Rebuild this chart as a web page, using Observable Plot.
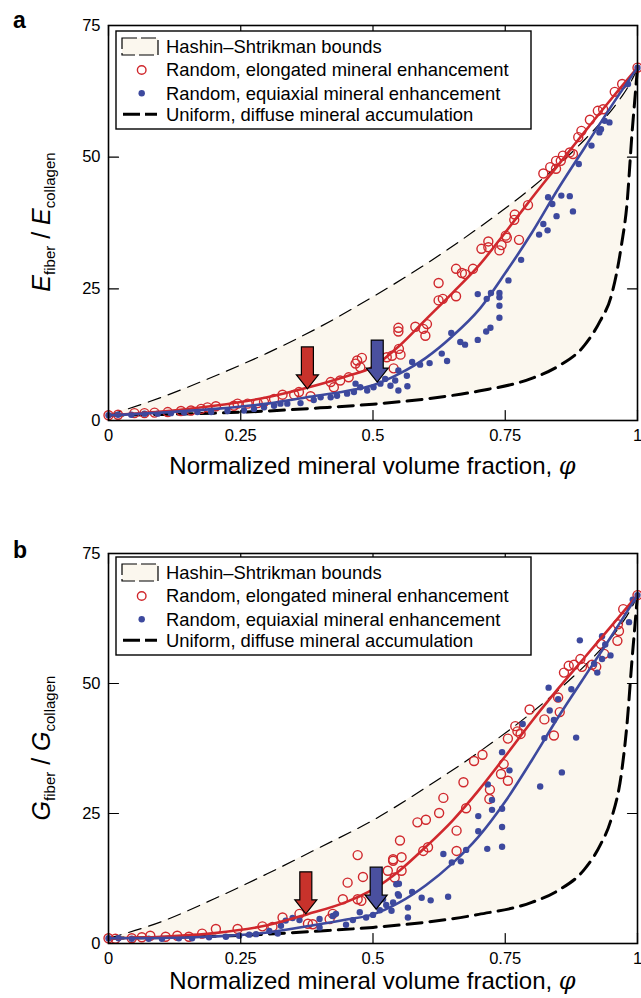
<!DOCTYPE html>
<html><head><meta charset="utf-8">
<script src="https://cdn.jsdelivr.net/npm/d3@7"></script>
<script src="https://cdn.jsdelivr.net/npm/@observablehq/plot@0.6"></script>
<style>
body{margin:0;background:#fff;}
#wrap{width:641px;}
#wrap svg{display:block;}
</style></head><body><div id="wrap"></div>
<script>
// ---------- data ----------
const xTicks = [0, 0.25, 0.5, 0.75, 1];
const xTickLabels = ["0", "0.25", "0.5", "0.75", "1"];
const yTicks = [0, 25, 50, 75];

// Hashin–Shtrikman bounds
const boundPhi = [0,0.1,0.2,0.3,0.4,0.5,0.6,0.7,0.8,0.85,0.9,0.93,0.95,0.97,0.98,0.99,0.995,1];
const aUpper = [1,4.4,8.4,12.8,17.8,23.5,29.7,36.6,44.2,48.5,53.3,56.5,58.8,61.5,63,64.8,65.8,67];
const aLower = [1,1.15,1.4,1.8,2.4,3.1,4.1,5.6,8.0,10.3,14.3,19,23.5,33.5,41,55,61,67];
const bUpper = [1,4.2,8.6,13.4,18.5,23.7,30,36.8,44.4,48.7,53.4,56.5,58.8,61.5,63,64.8,65.8,67];
const bLower = [1,1.15,1.4,1.8,2.4,3.1,4.1,5.6,7.9,10.2,14.3,19,23.8,33,42,55,61,67];

// fitted curves
const fitPhi = [0,0.1,0.2,0.3,0.375,0.45,0.5,0.55,0.6,0.65,0.7,0.75,0.8,0.85,0.9,0.95,1];
const aElongFit = [1,1.7,2.8,4.4,6.2,8.4,10.2,14.2,19.2,24.2,29.4,35.7,42.2,48.5,54.8,61,67];
const aEquiFit  = [1,1.5,2.2,3.2,4.4,5.6,6.7,8.9,11.9,16,21,28,35.6,44,51.8,59.6,67];
const bElongFit = [1,1.3,2.0,3.5,5.6,8.0,10.4,14.0,18.6,23.6,29.5,36,42.7,49,55,61,67];
const bEquiFit  = [1,1.05,1.35,2.1,3.3,4.6,5.6,7.9,11.2,15.4,20.6,27.3,35.2,43.5,51.3,59,67];

// panel a: random, elongated mineral enhancement (open circles)
const aElong = [[0,1.0],[0.018,1.1],[0.049,1.4],[0.068,1.4],[0.087,1.5],[0.112,1.6],[0.137,1.8],[0.156,1.9],[0.175,2.2],[0.187,2.5],[0.203,2.7],[0.237,2.8],[0.244,3.2],[0.263,3.2],[0.282,3.3],[0.294,3.5],[0.313,4.1],[0.329,4.9],[0.351,4.9],[0.36,5.4],[0.382,4.6],[0.42,7.3],[0.426,6.3],[0.438,7.6],[0.454,8.2],[0.467,10.8],[0.47,11.4],[0.479,11.9],[0.476,10.1],[0.526,12],[0.536,12.3],[0.539,9.9],[0.548,17.6],[0.548,16.9],[0.549,13.6],[0.552,12.5],[0.58,17.8],[0.595,17.4],[0.602,18.3],[0.599,16.1],[0.624,26.1],[0.624,22.8],[0.632,23.1],[0.657,23.6],[0.657,28.8],[0.668,28],[0.674,27.8],[0.689,28.8],[0.705,32.6],[0.718,34],[0.718,32.9],[0.739,32.3],[0.743,33.3],[0.751,35.1],[0.753,34.7],[0.776,34.3],[0.768,39.1],[0.767,38.1],[0.793,40.9],[0.822,46.9],[0.835,48.1],[0.846,47.8],[0.846,49.3],[0.855,49.3],[0.859,50.3],[0.872,50.9],[0.878,50.6],[0.888,53.8],[0.894,55],[0.91,57.1],[0.925,58.8],[0.935,59.1],[0.957,62.4],[0.971,63.9],[1,67]];
// panel a: random, equiaxial mineral enhancement (filled dots)
const aEqui = [[0,1.0],[0.018,1.1],[0.043,1.1],[0.068,1.3],[0.093,1.3],[0.118,1.4],[0.143,1.5],[0.168,1.6],[0.194,1.6],[0.225,1.8],[0.256,1.9],[0.275,2.2],[0.294,2.5],[0.313,2.8],[0.325,3.2],[0.338,3.2],[0.363,3.3],[0.388,3.9],[0.401,4.4],[0.42,4.4],[0.432,4.7],[0.451,5.1],[0.464,5.4],[0.467,7],[0.476,6.3],[0.489,5.7],[0.501,6.3],[0.514,7],[0.523,7.9],[0.533,6.6],[0.542,7.6],[0.548,9.5],[0.548,5.7],[0.564,8.5],[0.565,6.5],[0.574,11.1],[0.589,10.6],[0.607,10.9],[0.63,12.7],[0.64,11.3],[0.648,16.6],[0.665,14.9],[0.674,14.4],[0.698,15.3],[0.698,24],[0.714,16.9],[0.722,17.6],[0.715,23.1],[0.723,24.2],[0.739,24.2],[0.739,23.4],[0.739,21.8],[0.739,19.5],[0.756,26.6],[0.78,30.5],[0.814,35.3],[0.822,37.3],[0.83,36.1],[0.831,42.4],[0.839,41.1],[0.847,38.8],[0.856,42.7],[0.872,42.6],[0.878,39.7],[0.889,48.7],[0.913,52.2],[0.928,54.7],[0.931,55.3],[0.938,56.9],[0.947,56.6],[0.982,63.9],[1,67]];

// panel b
const bElong = [[0,1],[0.013,0.9],[0.044,1.0],[0.063,1.2],[0.079,1.5],[0.108,1.3],[0.13,1.5],[0.152,1.3],[0.177,1.9],[0.203,2.8],[0.244,2.8],[0.291,3.3],[0.31,3.2],[0.329,5],[0.361,5.7],[0.377,3.8],[0.386,3.7],[0.418,4.7],[0.424,5.7],[0.443,8.5],[0.452,11.7],[0.471,8.5],[0.478,8.2],[0.471,17],[0.481,12.8],[0.528,14],[0.538,15.9],[0.541,12.7],[0.551,19.8],[0.538,16.2],[0.554,16.6],[0.554,14],[0.584,23.3],[0.6,23.8],[0.595,17.8],[0.604,18.5],[0.625,25.1],[0.633,28],[0.658,21.7],[0.658,17.8],[0.671,31],[0.676,26],[0.691,35.1],[0.707,36.3],[0.721,29.6],[0.72,27.8],[0.742,32.6],[0.747,34.5],[0.755,31.3],[0.755,39.4],[0.769,41.8],[0.773,40.8],[0.779,40.3],[0.796,45],[0.824,43.1],[0.842,40],[0.85,47.3],[0.853,44.5],[0.861,52.1],[0.87,53.4],[0.88,53.6],[0.892,54.7],[0.895,53.2],[0.914,53.6],[0.922,53.2],[0.931,57.6],[0.937,55.7],[0.962,58.2],[0.965,60.1],[0.963,61.4],[0.973,64.3],[1,67]];
const bEqui = [[0,1],[0.019,1.0],[0.044,0.9],[0.076,0.9],[0.101,0.9],[0.133,1.0],[0.158,1.0],[0.19,1.2],[0.222,1.3],[0.247,1.5],[0.266,1.7],[0.279,1.8],[0.304,2.4],[0.32,1.9],[0.326,3.4],[0.335,4.4],[0.348,4.9],[0.361,4.5],[0.399,4.7],[0.399,3.1],[0.424,5.3],[0.43,5.7],[0.449,3.6],[0.462,4.5],[0.475,6],[0.487,5],[0.5,5.5],[0.513,6.4],[0.525,7.4],[0.538,7.9],[0.544,11.4],[0.547,9.5],[0.519,8.5],[0.535,6.3],[0.549,11.5],[0.549,9.2],[0.566,6.9],[0.566,5],[0.574,9.9],[0.592,8.8],[0.609,8.3],[0.642,9],[0.633,17.2],[0.649,15.6],[0.666,15.8],[0.676,18],[0.699,24.5],[0.699,21.6],[0.716,18.2],[0.717,30.6],[0.725,27.6],[0.725,25.7],[0.744,25.9],[0.744,22.4],[0.744,18.6],[0.744,36.8],[0.758,33.3],[0.783,42.2],[0.816,30.2],[0.824,39.5],[0.832,49.2],[0.834,44.8],[0.842,43],[0.85,47],[0.857,32.9],[0.875,48.9],[0.884,39.6],[0.891,58.3],[0.918,53.8],[0.924,52.1],[0.933,54.7],[0.949,55.4],[0.933,59.1],[0.939,57.5],[0.984,61.8],[0.991,66.1],[1,67]];

// arrow annotations: [phi, tip value]
const aArrowElong = [[0.376, 6.0]];
const aArrowEqui  = [[0.508, 7.3]];
const bArrowElong = [[0.373, 5.7]];
const bArrowEqui  = [[0.506, 6.6]];

const legendLabels = ["Hashin\u2013Shtrikman bounds", "Random, elongated mineral enhancement", "Random, equiaxial mineral enhancement", "Uniform, diffuse mineral accumulation"];
const xLabel = "Normalized mineral volume fraction, ";

// ---------- styling ----------
const FONT = "'Liberation Sans', Arial, sans-serif";
const RED = "#d0282d", BLUE = "#3d499e", CREAM = "#fbf7ee";
const RED_ARROW = "#c8322b", BLUE_ARROW = "#4a509f";

const tickShape = {draw(ctx, l) { ctx.moveTo(0, 0); ctx.lineTo(0, -l); }};
const blockArrow = {draw(ctx, l) {
  const w = 6, hw = 11, hl = 14;
  ctx.moveTo(-w, 0); ctx.lineTo(-w, -(l - hl)); ctx.lineTo(-hw, -(l - hl));
  ctx.lineTo(0, -l); ctx.lineTo(hw, -(l - hl)); ctx.lineTo(w, -(l - hl));
  ctx.lineTo(w, 0); ctx.closePath();
}};

function panel(o) {
  const bounds = boundPhi.map((p, i) => ({phi: p, lo: o.lower[i], hi: o.upper[i]}));
  const fitE = fitPhi.map((p, i) => ({phi: p, v: o.elongFit[i]}));
  const fitQ = fitPhi.map((p, i) => ({phi: p, v: o.equiFit[i]}));
  const tk = {length: 10, anchor: "start", shape: tickShape, stroke: "black", strokeWidth: 1.2};
  const svg = Plot.plot({
    width: 641, height: o.height,
    marginTop: o.marginTop, marginBottom: o.marginBottom, marginLeft: 108, marginRight: 4,
    x: {domain: [0, 1]}, y: {domain: [0, 75]},
    style: {fontFamily: FONT, background: "white", color: "black", overflow: "visible"},
    marks: [
      Plot.areaY(bounds, {x: "phi", y1: "lo", y2: "hi", fill: CREAM, curve: "monotone-x"}),
      Plot.line(bounds, {x: "phi", y: "hi", stroke: "black", strokeWidth: 1.2, strokeDasharray: "13,8", curve: "monotone-x"}),
      Plot.line(bounds, {x: "phi", y: "lo", stroke: "black", strokeWidth: 3, strokeDasharray: "15,8", curve: "monotone-x"}),
      Plot.dot(o.elong, {x: d => d[0], y: d => d[1], r: 4.5, stroke: RED, strokeWidth: 1.4, fill: "none"}),
      Plot.dot(o.equi, {x: d => d[0], y: d => d[1], r: 3.2, fill: BLUE, stroke: "none"}),
      Plot.line(fitE, {x: "phi", y: "v", stroke: RED, strokeWidth: 2.6, curve: "monotone-x"}),
      Plot.line(fitQ, {x: "phi", y: "v", stroke: BLUE, strokeWidth: 2.6, curve: "monotone-x"}),
      Plot.vector(o.arrowElong, {x: d => d[0], y: d => d[1], length: 42, rotate: 180, anchor: "end", shape: blockArrow, fill: RED_ARROW, stroke: "black", strokeWidth: 1.2, strokeLinejoin: "miter"}),
      Plot.vector(o.arrowEqui, {x: d => d[0], y: d => d[1], length: 42, rotate: 180, anchor: "end", shape: blockArrow, fill: BLUE_ARROW, stroke: "black", strokeWidth: 1.2, strokeLinejoin: "miter"}),
      Plot.vector(xTicks, {x: d => d, frameAnchor: "bottom", ...tk}),
      Plot.vector(xTicks, {x: d => d, frameAnchor: "top", rotate: 180, ...tk}),
      Plot.vector(yTicks, {y: d => d, frameAnchor: "left", rotate: 90, ...tk}),
      Plot.vector(yTicks, {y: d => d, frameAnchor: "right", rotate: -90, ...tk}),
      Plot.frame({stroke: "black", strokeWidth: 1.6}),
      Plot.axisX(xTicks, {anchor: "bottom", tickSize: 0, tickPadding: 9, fontSize: 16.5, label: null,
        tickFormat: d => xTickLabels[xTicks.indexOf(d)]}),
      Plot.axisY(yTicks, {anchor: "left", tickSize: 0, tickPadding: 8, fontSize: 16.5, label: null,
        tickFormat: d => String(d)})
    ]
  });
  const s = d3.select(svg);
  // panel letter
  s.append("text").attr("x", 13).attr("y", o.letterY).attr("text-anchor", "start").attr("font-family", FONT)
    .attr("font-weight", "bold").attr("font-size", 23).attr("fill", "black").text(o.letter);
  // y label
  const yl = s.append("text").attr("transform", `translate(50,${o.yLabelY}) rotate(-90)`)
    .attr("text-anchor", "middle").attr("font-family", FONT).attr("font-size", 25).attr("fill", "black");
  yl.append("tspan").attr("font-style", "italic").text(o.sym);
  yl.append("tspan").attr("font-size", 15).attr("dy", 5).text("fiber");
  yl.append("tspan").attr("dy", -5).text(" / ");
  yl.append("tspan").attr("font-style", "italic").text(o.sym);
  yl.append("tspan").attr("font-size", 15).attr("dy", 5).text("collagen");
  // x label
  const xl = s.append("text").attr("x", 372.5).attr("y", o.xLabelY).attr("text-anchor", "middle")
    .attr("font-family", FONT).attr("font-size", 24).attr("fill", "black");
  xl.append("tspan").text(xLabel);
  xl.append("tspan").attr("font-style", "italic").attr("font-family", "'DejaVu Serif', serif").text("\u03c6");
  // legend
  const L = s.append("g").attr("font-family", FONT).attr("font-size", 18.4).attr("text-anchor", "start");
  const top = o.legendTop;
  L.append("rect").attr("x", 116).attr("y", top).attr("width", 415).attr("height", 98)
    .attr("fill", "white").attr("stroke", "black").attr("stroke-width", 1.4);
  const rows = [15.5, 39, 62.3, 83.3].map(d => top + d);
  L.append("rect").attr("x", 122).attr("y", rows[0] - 8.5).attr("width", 36).attr("height", 17)
    .attr("fill", CREAM).attr("stroke", "black").attr("stroke-width", 1.2).attr("stroke-dasharray", "15,4");
  L.append("circle").attr("cx", 141.7).attr("cy", rows[1]).attr("r", 4.3)
    .attr("fill", "none").attr("stroke", RED).attr("stroke-width", 1.4);
  L.append("circle").attr("cx", 141.7).attr("cy", rows[2]).attr("r", 3.2).attr("fill", BLUE);
  L.append("line").attr("x1", 123).attr("x2", 157).attr("y1", rows[3]).attr("y2", rows[3])
    .attr("stroke", "black").attr("stroke-width", 3).attr("stroke-dasharray", "17,5");
  legendLabels.forEach((t, i) => {
    L.append("text").attr("x", 166).attr("y", rows[i]).attr("dy", "0.35em").attr("fill", "black").text(t);
  });
  return svg;
}

const wrap = document.getElementById("wrap");
wrap.appendChild(panel({
  letter: "a", sym: "E", height: 500, marginTop: 25, marginBottom: 80,
  upper: aUpper, lower: aLower, elongFit: aElongFit, equiFit: aEquiFit,
  elong: aElong, equi: aEqui, arrowElong: aArrowElong, arrowEqui: aArrowEqui,
  letterY: 28, yLabelY: 222, xLabelY: 474, legendTop: 31
}));
wrap.appendChild(panel({
  letter: "b", sym: "G", height: 498, marginTop: 53, marginBottom: 55,
  upper: bUpper, lower: bLower, elongFit: bElongFit, equiFit: bEquiFit,
  elong: bElong, equi: bEqui, arrowElong: bArrowElong, arrowEqui: bArrowEqui,
  letterY: 58, yLabelY: 248, xLabelY: 489, legendTop: 57
}));
</script></body></html>
